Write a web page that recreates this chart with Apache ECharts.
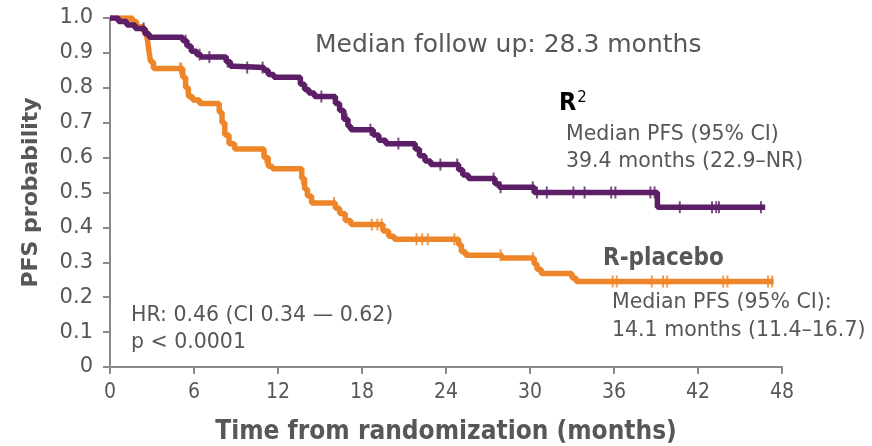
<!DOCTYPE html>
<html>
<head>
<meta charset="utf-8">
<script src="https://cdn.jsdelivr.net/npm/echarts@6/dist/echarts.min.js"></script>
<style>
html,body{margin:0;padding:0;background:#fff;}
#chart{width:872px;height:446px;}
</style>
</head>
<body>
<div id="chart"></div>
<script>
// ---- Data (months, PFS probability) ----
const r2Times = [0, 0.6, 1.2, 1.8, 2.5, 2.8, 5.2, 5.5, 5.8, 6.2, 6.5, 8.3, 8.6, 8.9, 11.0, 11.3, 11.7, 13.6, 13.9, 14.2, 14.6, 16.1, 16.4, 16.7, 17.0, 17.2, 18.8, 19.2, 19.7, 21.8, 22.1, 22.5, 22.9, 24.9, 25.2, 25.6, 27.5, 27.8, 30.3, 39.1, 46.8];
const r2Surv  = [1.0, 0.99, 0.98, 0.97, 0.955, 0.945, 0.935, 0.92, 0.905, 0.895, 0.888, 0.875, 0.862, 0.858, 0.85, 0.838, 0.83, 0.81, 0.795, 0.785, 0.775, 0.755, 0.735, 0.71, 0.69, 0.68, 0.665, 0.65, 0.64, 0.625, 0.605, 0.59, 0.58, 0.565, 0.55, 0.54, 0.525, 0.515, 0.5, 0.458, 0.458];
const r2Censor = [2.4, 5.4, 6.4, 7.1, 8.4, 9.8, 10.9, 15.1, 16.9, 18.6, 20.6, 23.6, 24.8, 27.4, 27.9, 30.2, 30.5, 31.2, 33.1, 33.9, 35.8, 36.1, 38.6, 38.9, 40.7, 43.0, 43.3, 43.5, 46.5];

const rpTimes = [0, 1.6, 1.9, 2.3, 2.6, 2.7, 2.8, 2.9, 3.1, 5.2, 5.4, 5.6, 5.9, 6.4, 7.8, 8.0, 8.2, 8.5, 8.9, 11.0, 11.3, 11.6, 13.7, 13.9, 14.1, 14.4, 16.1, 16.4, 16.8, 17.2, 19.5, 19.9, 20.3, 24.9, 25.1, 25.4, 28.0, 30.3, 30.5, 30.8, 33.0, 33.3, 47.4];
const rpSurv  = [1.0, 0.99, 0.975, 0.965, 0.955, 0.93, 0.9, 0.875, 0.855, 0.83, 0.8, 0.775, 0.765, 0.755, 0.73, 0.7, 0.665, 0.64, 0.625, 0.6, 0.575, 0.568, 0.54, 0.51, 0.49, 0.47, 0.455, 0.44, 0.42, 0.408, 0.39, 0.375, 0.366, 0.35, 0.33, 0.32, 0.312, 0.295, 0.28, 0.268, 0.255, 0.245, 0.245];
const rpCensor = [2.4, 5.0, 5.1, 8.1, 11.1, 13.7, 16.0, 18.7, 19.1, 19.4, 21.9, 22.3, 22.7, 24.6, 25.0, 27.9, 30.2, 35.9, 36.2, 38.7, 39.5, 39.8, 43.8, 44.1, 47.0, 47.3];

const xTicks = [0, 6, 12, 18, 24, 30, 36, 42, 48];
const yTicks = [0, 0.1, 0.2, 0.3, 0.4, 0.5, 0.6, 0.7, 0.8, 0.9, 1.0];

const PURPLE = '#5c1e66';
const ORANGE = '#ee8528';
const GRAY = '#575757';

function stepValue(times, surv, t) {
  let v = surv[0];
  for (let i = 0; i < times.length; i++) { if (times[i] <= t) v = surv[i]; }
  return v;
}
const pair = (a, b) => a.map((t, i) => [t, b[i]]);

const chart = echarts.init(document.getElementById('chart'));
const baseFont = '"DejaVu Sans", "Open Sans", sans-serif';
const condFont = '"DejaVu Sans Condensed", "Liberation Sans Narrow", "DejaVu Sans", sans-serif';

chart.setOption({
  animation: false,
  backgroundColor: '#fff',
  grid: { left: 110, right: 90, top: 18, bottom: 79, containLabel: false, outerBoundsMode: 'none' },
  xAxis: {
    type: 'value', min: 0, max: 48, interval: 6,
    name: 'Time from randomization (months)', nameLocation: 'middle', nameGap: 52,
    nameTextStyle: { fontFamily: condFont, fontWeight: 'bold', fontSize: 26, color: GRAY },
    axisLine: { show: true, lineStyle: { color: '#8a8a8a', width: 2 } },
    axisTick: { show: true, length: 7, lineStyle: { color: '#8a8a8a', width: 2 } },
    axisLabel: { fontFamily: condFont, fontSize: 21, color: GRAY, margin: 15,
      formatter: v => xTicks.includes(v) ? String(v) : '' },
    splitLine: { show: false }
  },
  yAxis: {
    type: 'value', min: 0, max: 1, interval: 0.1,
    name: 'PFS probability', nameLocation: 'middle', nameGap: 68, nameRotate: 90,
    nameTextStyle: { fontFamily: baseFont, fontWeight: 'bold', fontSize: 22, color: GRAY },
    axisLine: { show: true, lineStyle: { color: '#8a8a8a', width: 2 } },
    axisTick: { show: true, length: 7, lineStyle: { color: '#8a8a8a', width: 2 } },
    axisLabel: { fontFamily: baseFont, fontSize: 21, color: GRAY, margin: 17,
      formatter: v => { const m = yTicks.find(t => Math.abs(t - v) < 1e-6); return m === undefined ? '' : (m === 0 ? '0' : m.toFixed(1)); } },
    splitLine: { show: false }
  },
  series: [
    { name: 'R-placebo', type: 'line', step: 'end', data: pair(rpTimes, rpSurv), showSymbol: false,
      lineStyle: { color: ORANGE, width: 5.5 }, z: 2 },
    { name: 'R-placebo censored', type: 'scatter', data: rpCensor.map(t => [t, stepValue(rpTimes, rpSurv, t)]),
      symbol: 'rect', symbolSize: [2, 12], itemStyle: { color: ORANGE }, z: 3 },
    { name: 'R2', type: 'line', step: 'end', data: pair(r2Times, r2Surv), showSymbol: false,
      lineStyle: { color: PURPLE, width: 5.5 }, z: 4 },
    { name: 'R2 censored', type: 'scatter', data: r2Censor.map(t => [t, stepValue(r2Times, r2Surv, t)]),
      symbol: 'rect', symbolSize: [2, 12], itemStyle: { color: PURPLE }, z: 5 }
  ],
  graphic: [
    { type: 'text', left: 315, top: 33, style: { text: 'Median follow up: 28.3 months', fontFamily: baseFont, fontSize: 25, fill: GRAY } },
    { type: 'text', left: 559, top: 91, style: { text: '{b|R}{s|2}', rich: {
        b: { fontFamily: condFont, fontSize: 25, fontWeight: 'bold', color: GRAY },
        s: { fontFamily: baseFont, fontSize: 15, fontWeight: 'normal', color: GRAY, verticalAlign: 'top', padding: [0,0,8,1] } } } },
    { type: 'text', left: 566, top: 124, style: { text: 'Median PFS (95% CI)', fontFamily: baseFont, fontSize: 20.5, fill: GRAY } },
    { type: 'text', left: 566, top: 151, style: { text: '39.4 months (22.9\u2013NR)', fontFamily: baseFont, fontSize: 20.5, fill: GRAY } },
    { type: 'text', left: 603, top: 247, style: { text: 'R-placebo', fontFamily: condFont, fontSize: 24, fontWeight: 'bold', fill: GRAY } },
    { type: 'text', left: 612, top: 292, style: { text: 'Median PFS (95% CI):', fontFamily: baseFont, fontSize: 20.5, fill: GRAY } },
    { type: 'text', left: 612, top: 320, style: { text: '14.1 months (11.4\u201316.7)', fontFamily: baseFont, fontSize: 20.5, fill: GRAY } },
    { type: 'text', left: 131, top: 305, style: { text: 'HR: 0.46 (CI 0.34 \u2014 0.62)', fontFamily: baseFont, fontSize: 20.5, fill: GRAY } },
    { type: 'text', left: 131, top: 332, style: { text: 'p < 0.0001', fontFamily: baseFont, fontSize: 20.5, fill: GRAY } }
  ]
});
</script>
</body>
</html>
